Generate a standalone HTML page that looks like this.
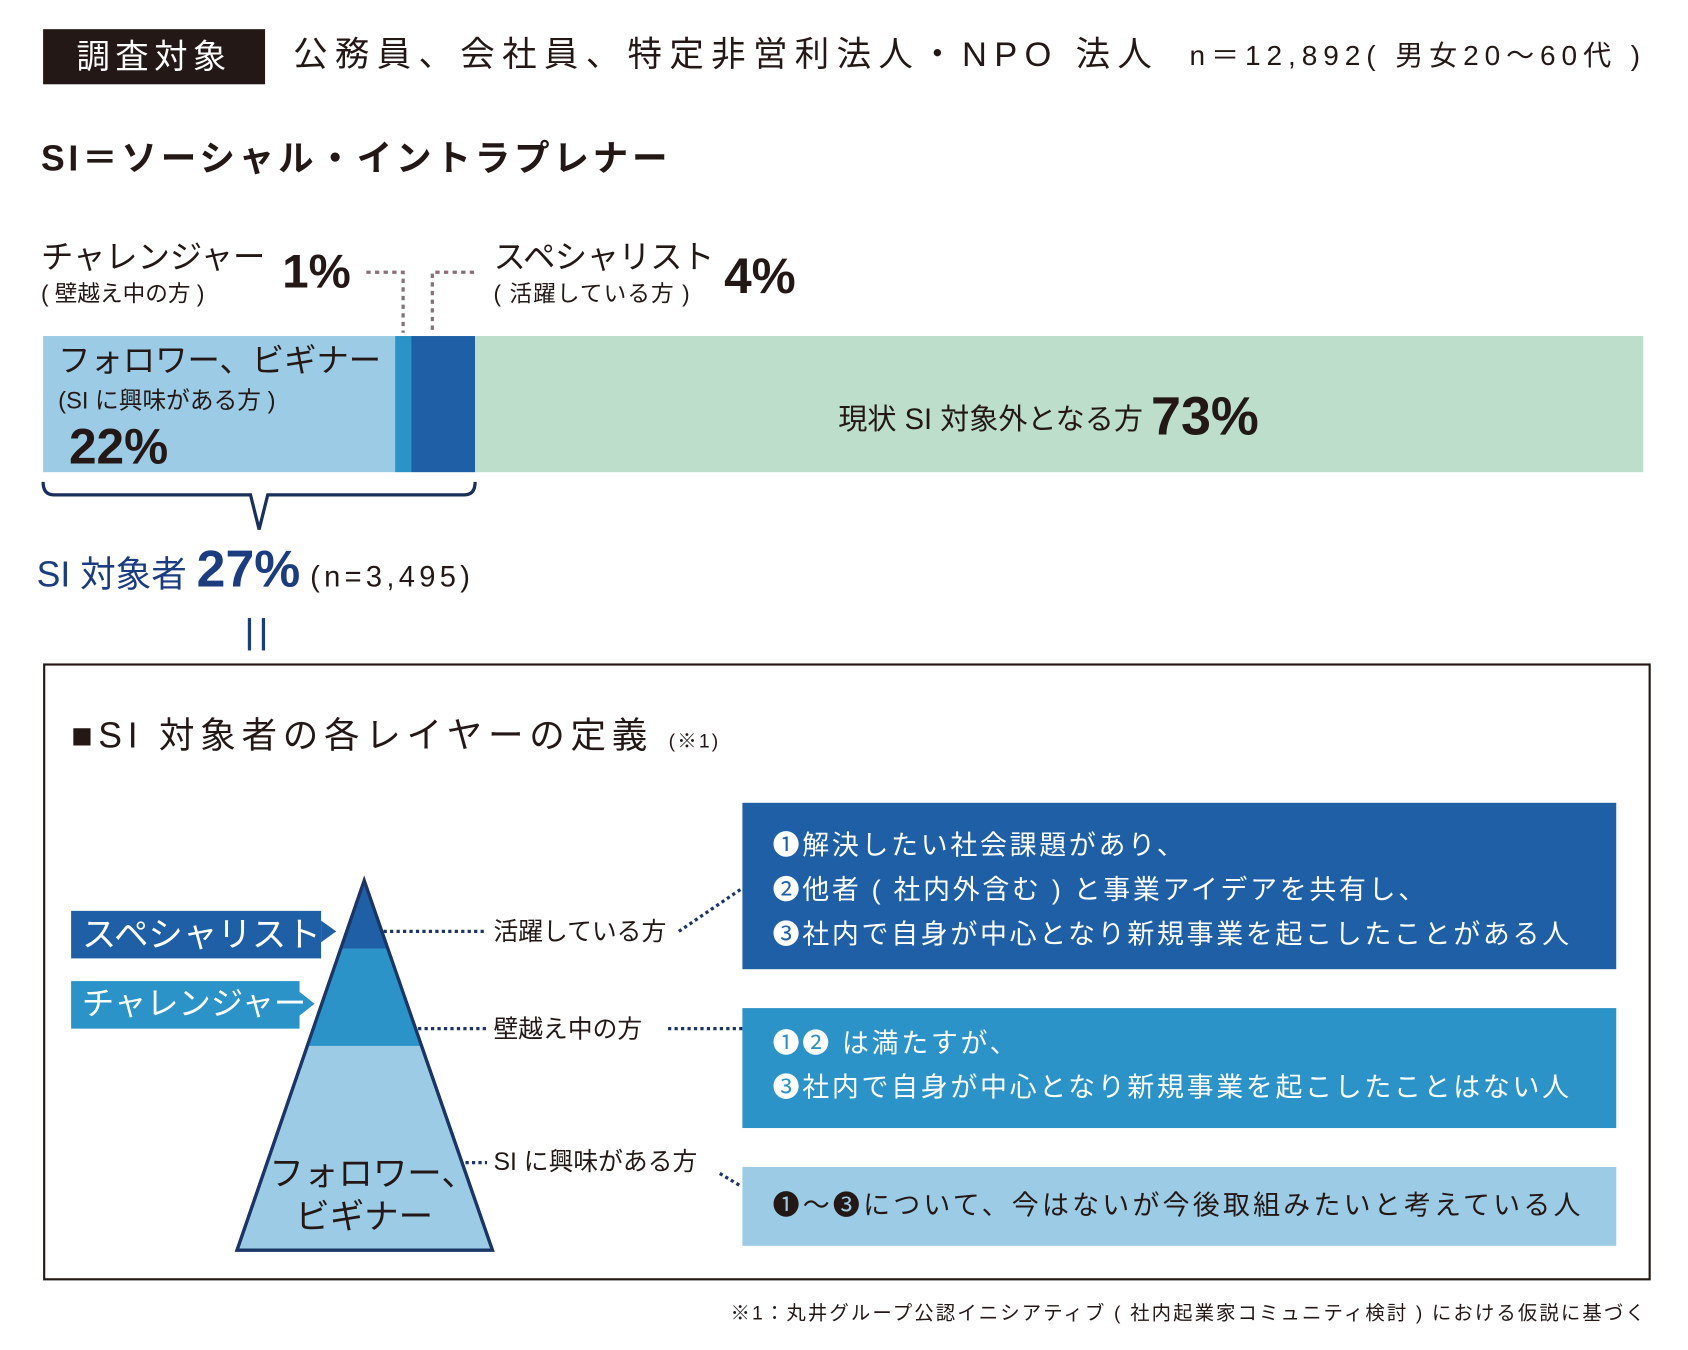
<!DOCTYPE html>
<html><head><meta charset="utf-8">
<style>
html,body{margin:0;padding:0;background:#fff;}
body{width:1688px;height:1350px;overflow:hidden;position:relative;}
#wrap{position:absolute;left:0;top:0;width:1560px;height:1248px;transform:scale(1.0775,1.0805);transform-origin:0 0;font-family:"Liberation Sans","Noto Sans CJK JP",sans-serif;color:#231815;}
.a{position:absolute;white-space:nowrap;line-height:1;}
</style></head><body>
<div id="wrap">
  <div class="a" style="left:40px;top:27px;width:206px;height:51px;background:#231815;color:#fff;font-size:31px;line-height:51px;text-align:center;letter-spacing:5px;">調査対象</div>
  <div class="a" style="left:272px;top:34px;font-size:32px;letter-spacing:6.8px;">公務員、会社員、特定非営利法人・NPO 法人</div>
  <div class="a" style="left:1104px;top:38px;font-size:26px;letter-spacing:5.5px;">n＝12,892(&nbsp;男女20～60代&nbsp;)</div>
  <div class="a" style="left:38px;top:130px;font-size:33px;font-weight:bold;letter-spacing:3.5px;">SI＝ソーシャル・イントラプレナー</div>

  <div class="a" style="left:38px;top:224px;font-size:30px;">チャレンジャー</div>
  <div class="a" style="left:38px;top:262px;font-size:21px;">(&nbsp;壁越え中の方&nbsp;)</div>
  <div class="a" style="left:262px;top:230px;font-size:44px;font-weight:bold;">1%</div>
  <div class="a" style="left:458px;top:224px;font-size:30px;letter-spacing:-0.5px;">スペシャリスト</div>
  <div class="a" style="left:458px;top:262px;font-size:21px;letter-spacing:1px;">(&nbsp;活躍している方&nbsp;)</div>
  <div class="a" style="left:672px;top:232px;font-size:46px;font-weight:bold;">4%</div>

  <svg class="a" style="left:0;top:0" width="1560" height="620" id="chart"></svg>

  <div class="a" style="left:54px;top:320px;font-size:30px;">フォロワー、ビギナー</div>
  <div class="a" style="left:54px;top:360px;font-size:22px;">(SI に興味がある方&nbsp;)</div>
  <div class="a" style="left:64px;top:390px;font-size:46px;font-weight:bold;">22%</div>
  <div class="a" style="left:778px;top:360px;font-size:27px;">現状 SI 対象外となる方 <span style="font-size:50px;font-weight:bold;vertical-align:-5px;">73%</span></div>

  <div class="a" style="left:34px;top:504px;font-size:33px;color:#1b3d7f;">SI 対象者 <span style="font-size:48px;font-weight:bold;">27%</span> <span style="font-size:27px;color:#231815;letter-spacing:4px;">(n=3,495)</span></div>
  <div class="a" style="left:230px;top:572px;width:3px;height:30px;background:#1b3d7f;"></div>
  <div class="a" style="left:243px;top:572px;width:3px;height:30px;background:#1b3d7f;"></div>

  <div class="a" style="left:40px;top:614px;width:1488px;height:567px;border:2px solid #231815;"></div>
  <div class="a" style="left:66px;top:664px;font-size:33px;letter-spacing:5.3px;">■SI 対象者の各レイヤーの定義 <span style="font-size:18px;letter-spacing:2px;">(※1)</span></div>

  <svg class="a" style="left:0;top:0" width="1560" height="1248">
    <polygon points="338,815 220,1157 457,1157" fill="#9ccbe5" stroke="#1a3566" stroke-width="3"/>
    <polygon points="316,878 360,878 391,968 285,968" fill="#2b93c7"/>
    <polygon points="338,817 316,878 360,878" fill="#1e5fa6"/>
    <polygon points="338,815 220,1157 457,1157" fill="none" stroke="#1a3566" stroke-width="3"/>
    <line x1="356" y1="862" x2="452" y2="862" stroke="#1a3566" stroke-width="3" stroke-dasharray="3,3"/>
    <line x1="630" y1="862" x2="689" y2="822" stroke="#1a3566" stroke-width="3" stroke-dasharray="3,3"/>
    <line x1="388" y1="952" x2="452" y2="952" stroke="#1a3566" stroke-width="3" stroke-dasharray="3,3"/>
    <line x1="620" y1="952" x2="689" y2="952" stroke="#1a3566" stroke-width="3" stroke-dasharray="3,3"/>
    <line x1="432" y1="1076" x2="452" y2="1076" stroke="#1a3566" stroke-width="3" stroke-dasharray="3,3"/>
    <line x1="668" y1="1086" x2="688" y2="1098" stroke="#1a3566" stroke-width="3" stroke-dasharray="3,3"/>
    <polygon points="298,852 312,862 298,872" fill="#1e5fa6"/>
    <polygon points="278,918 292,929 278,940" fill="#2b93c7"/>
  </svg>
  <div class="a" style="left:66px;top:843px;width:232px;height:44px;background:#1e5fa6;color:#fff;font-size:32px;line-height:44px;padding-left:10px;box-sizing:border-box;">スペシャリスト</div>
  <div class="a" style="left:66px;top:908px;width:212px;height:44px;background:#2b93c7;color:#fff;font-size:30px;line-height:44px;padding-left:10px;box-sizing:border-box;">チャレンジャー</div>
  <div class="a" style="left:250px;top:1066px;font-size:32px;line-height:40px;text-align:center;width:176px;">フォロワー、<br>ビギナー</div>
  <div class="a" style="left:458px;top:851px;font-size:23px;">活躍している方</div>
  <div class="a" style="left:458px;top:941px;font-size:23px;">壁越え中の方</div>
  <div class="a" style="left:458px;top:1064px;font-size:23px;">SI に興味がある方</div>

  <div class="a" style="left:689px;top:743px;width:811px;height:154px;background:#1e5fa6;color:#fff;font-size:25px;line-height:41px;padding:20px 0 0 28px;box-sizing:border-box;letter-spacing:2.5px;">❶解決したい社会課題があり、<br>❷他者 ( 社内外含む ) と事業アイデアを共有し、<br>❸社内で自身が中心となり新規事業を起こしたことがある人</div>
  <div class="a" style="left:689px;top:933px;width:811px;height:111px;background:#2b93c7;color:#fff;font-size:25px;line-height:41px;padding:13px 0 0 28px;box-sizing:border-box;letter-spacing:2.5px;">❶❷ は満たすが、<br>❸社内で自身が中心となり新規事業を起こしたことはない人</div>
  <div class="a" style="left:689px;top:1080px;width:811px;height:73px;background:#9ccbe5;color:#231815;font-size:25px;line-height:73px;padding-left:28px;box-sizing:border-box;letter-spacing:3px;">❶～❸について、今はないが今後取組みたいと考えている人</div>

  <div class="a" style="left:678px;top:1206px;font-size:18px;letter-spacing:1.95px;">※1：丸井グループ公認イニシアティブ ( 社内起業家コミュニティ検討 ) における仮説に基づく</div>
</div>
<script>
const categories = ["フォロワー、ビギナー", "チャレンジャー", "スペシャリスト", "現状SI対象外"];
const values = [22, 1, 4, 73];
const colors = ["#9ccbe5", "#2b93c7", "#1e5fa6", "#bcdeca"];
const NS = "http://www.w3.org/2000/svg";
const svg = document.getElementById("chart");
const x0 = 40, x1 = 1525, total = values.reduce((a, b) => a + b, 0);
function xs(v) { return x0 + (v / total) * (x1 - x0); }
let cum = 0;
const ends = [];
values.forEach((v, i) => {
  const r = document.createElementNS(NS, "rect");
  r.setAttribute("x", xs(cum));
  r.setAttribute("y", 311);
  r.setAttribute("width", xs(cum + v) - xs(cum));
  r.setAttribute("height", 126);
  r.setAttribute("fill", colors[i]);
  
  
  svg.appendChild(r);
  cum += v;
  ends.push(cum);
});
const cx = (xs(ends[0]) + xs(ends[1])) / 2, sx = (xs(ends[1]) + xs(ends[2])) / 2 - 10;
const p1 = document.createElementNS(NS, "polyline");
p1.setAttribute("points", `340,252 ${cx},252 ${cx},308`);
p1.setAttribute("fill", "none"); p1.setAttribute("stroke", "#8a6f78"); p1.setAttribute("stroke-width", "3"); p1.setAttribute("stroke-dasharray", "4,4");


svg.appendChild(p1);
const p2 = document.createElementNS(NS, "polyline");
p2.setAttribute("points", `440,252 ${sx},252 ${sx},308`);
p2.setAttribute("fill", "none"); p2.setAttribute("stroke", "#8a6f78"); p2.setAttribute("stroke-width", "3"); p2.setAttribute("stroke-dasharray", "4,4");


svg.appendChild(p2);
const bx1 = xs(0), bx2 = xs(ends[2]), bm = (bx1 + bx2) / 2;
const br = document.createElementNS(NS, "path");
br.setAttribute("d", `M${bx1},446 Q${bx1},458 ${bx1+10},458 L${bm-8},458 L${bm},490 L${bm+8},458 L${bx2-10},458 Q${bx2},458 ${bx2},446`);
br.setAttribute("fill", "none"); br.setAttribute("stroke", "#1a2f5a"); br.setAttribute("stroke-width", "3");


svg.appendChild(br);
</script>
</body></html>
